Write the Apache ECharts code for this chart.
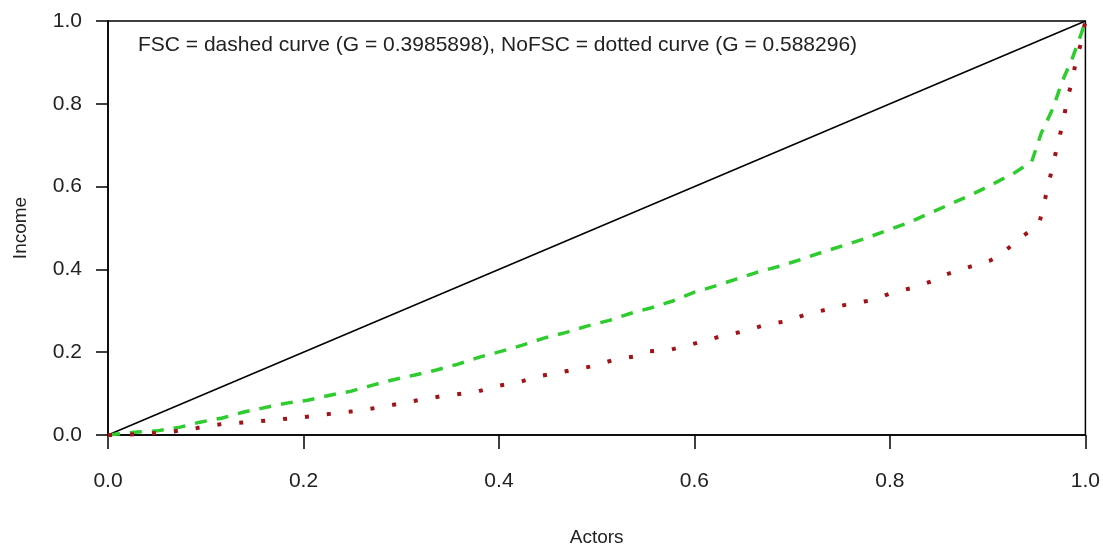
<!DOCTYPE html>
<html>
<head>
<meta charset="utf-8">
<script src="https://cdn.jsdelivr.net/npm/echarts@6/dist/echarts.min.js"></script>
<style>
html,body{margin:0;padding:0;background:#fff;}
#chart{width:1103px;height:552px;}
</style>
</head>
<body>
<div id="chart"></div>
<script>
// Tick labels
var xTicks = [0, 0.2, 0.4, 0.6, 0.8, 1.0];
var yTicks = [0, 0.2, 0.4, 0.6, 0.8, 1.0];

// Equality line
var eqX = [0, 1];
var eqY = [0, 1];

// FSC (dashed curve) Lorenz points
var fscX = [0, 0.030, 0.050, 0.074, 0.094, 0.117, 0.138, 0.158, 0.183, 0.204, 0.227, 0.249, 0.270, 0.291, 0.314, 0.336, 0.358, 0.380, 0.402, 0.424, 0.446, 0.469, 0.490, 0.513, 0.535, 0.557, 0.577, 0.600, 0.620, 0.642, 0.664, 0.686, 0.709, 0.730, 0.753, 0.775, 0.797, 0.819, 0.842, 0.863, 0.884, 0.906, 0.928, 0.945, 0.955, 0.967, 0.976, 0.986, 0.996, 1.0];
var fscY = [0, 0.007, 0.010, 0.019, 0.031, 0.041, 0.055, 0.065, 0.077, 0.084, 0.096, 0.106, 0.120, 0.133, 0.145, 0.157, 0.171, 0.188, 0.202, 0.217, 0.234, 0.248, 0.263, 0.277, 0.294, 0.308, 0.323, 0.345, 0.359, 0.376, 0.393, 0.407, 0.424, 0.441, 0.458, 0.475, 0.494, 0.513, 0.537, 0.559, 0.581, 0.607, 0.634, 0.660, 0.730, 0.790, 0.853, 0.906, 0.971, 1.0];

// NoFSC (dotted curve) Lorenz points
var noX = [0, 0.030, 0.060, 0.091, 0.118, 0.145, 0.172, 0.199, 0.227, 0.254, 0.278, 0.312, 0.342, 0.377, 0.397, 0.421, 0.441, 0.464, 0.495, 0.520, 0.540, 0.554, 0.574, 0.597, 0.628, 0.651, 0.671, 0.694, 0.715, 0.737, 0.760, 0.781, 0.804, 0.826, 0.848, 0.858, 0.880, 0.903, 0.914, 0.923, 0.934, 0.944, 0.953, 0.959, 0.965, 0.971, 0.977, 0.982, 0.986, 0.991, 0.995, 1.0];
var noY = [0, 0.002, 0.006, 0.017, 0.027, 0.031, 0.037, 0.043, 0.051, 0.058, 0.067, 0.082, 0.094, 0.104, 0.118, 0.128, 0.142, 0.152, 0.166, 0.183, 0.190, 0.202, 0.205, 0.219, 0.239, 0.251, 0.265, 0.275, 0.292, 0.304, 0.318, 0.325, 0.345, 0.357, 0.376, 0.388, 0.405, 0.422, 0.436, 0.455, 0.477, 0.494, 0.513, 0.573, 0.634, 0.696, 0.754, 0.817, 0.851, 0.911, 0.942, 1.0];

var annotation = 'FSC = dashed curve (G = 0.3985898), NoFSC = dotted curve (G = 0.588296)';

function pairs(xs, ys) { return xs.map(function (x, i) { return [x, ys[i]]; }); }

var FONT = '"Liberation Sans", Arial, sans-serif';
var chart = echarts.init(document.getElementById('chart'), null, {renderer: 'canvas'});
chart.setOption({
  animation: false,
  backgroundColor: '#ffffff',
  grid: {left: 108, right: 16, top: 21, bottom: 116, show: true, borderColor: '#000', borderWidth: 1.5, backgroundColor: 'transparent'},
  xAxis: {
    type: 'value', min: 0, max: 1, interval: 0.2,
    name: 'Actors', nameLocation: 'middle', nameGap: 93,
    nameTextStyle: {fontFamily: FONT, fontSize: 19, color: '#222'},
    axisLine: {show: true, onZero: false, lineStyle: {color: '#000', width: 1.5}},
    axisTick: {show: true, length: 14, lineStyle: {color: '#000', width: 1.5}},
    splitLine: {show: false},
    axisLabel: {margin: 36, fontFamily: FONT, fontSize: 21, color: '#222',
      formatter: function (v) { return v.toFixed(1); }}
  },
  yAxis: {
    type: 'value', min: 0, max: 1, interval: 0.2,
    name: 'Income', nameLocation: 'middle', nameGap: 78,
    nameTextStyle: {fontFamily: FONT, fontSize: 19, color: '#222'},
    axisLine: {show: true, onZero: false, lineStyle: {color: '#000', width: 1.5}},
    axisTick: {show: true, length: 12, lineStyle: {color: '#000', width: 1.5}},
    splitLine: {show: false},
    axisLabel: {margin: 26, fontFamily: FONT, fontSize: 21, color: '#222',
      formatter: function (v) { return v.toFixed(1); }}
  },
  graphic: [{
    type: 'text', left: 138, top: 35, silent: true,
    style: {text: annotation, fontFamily: FONT, fontSize: 21, fill: '#222'}
  }],
  series: [
    {type: 'line', data: pairs(eqX, eqY), symbol: 'none', lineStyle: {color: '#000', width: 1.5}, z: 2},
    {type: 'line', data: pairs(fscX, fscY), symbol: 'none', lineStyle: {color: '#2ecc2e', width: 3.5, type: [12, 10], cap: 'butt'}, z: 3},
    {type: 'line', data: pairs(noX, noY), symbol: 'none', lineStyle: {color: '#a01418', width: 4, type: [4, 18], cap: 'butt'}, z: 4}
  ]
});
</script>
</body>
</html>
